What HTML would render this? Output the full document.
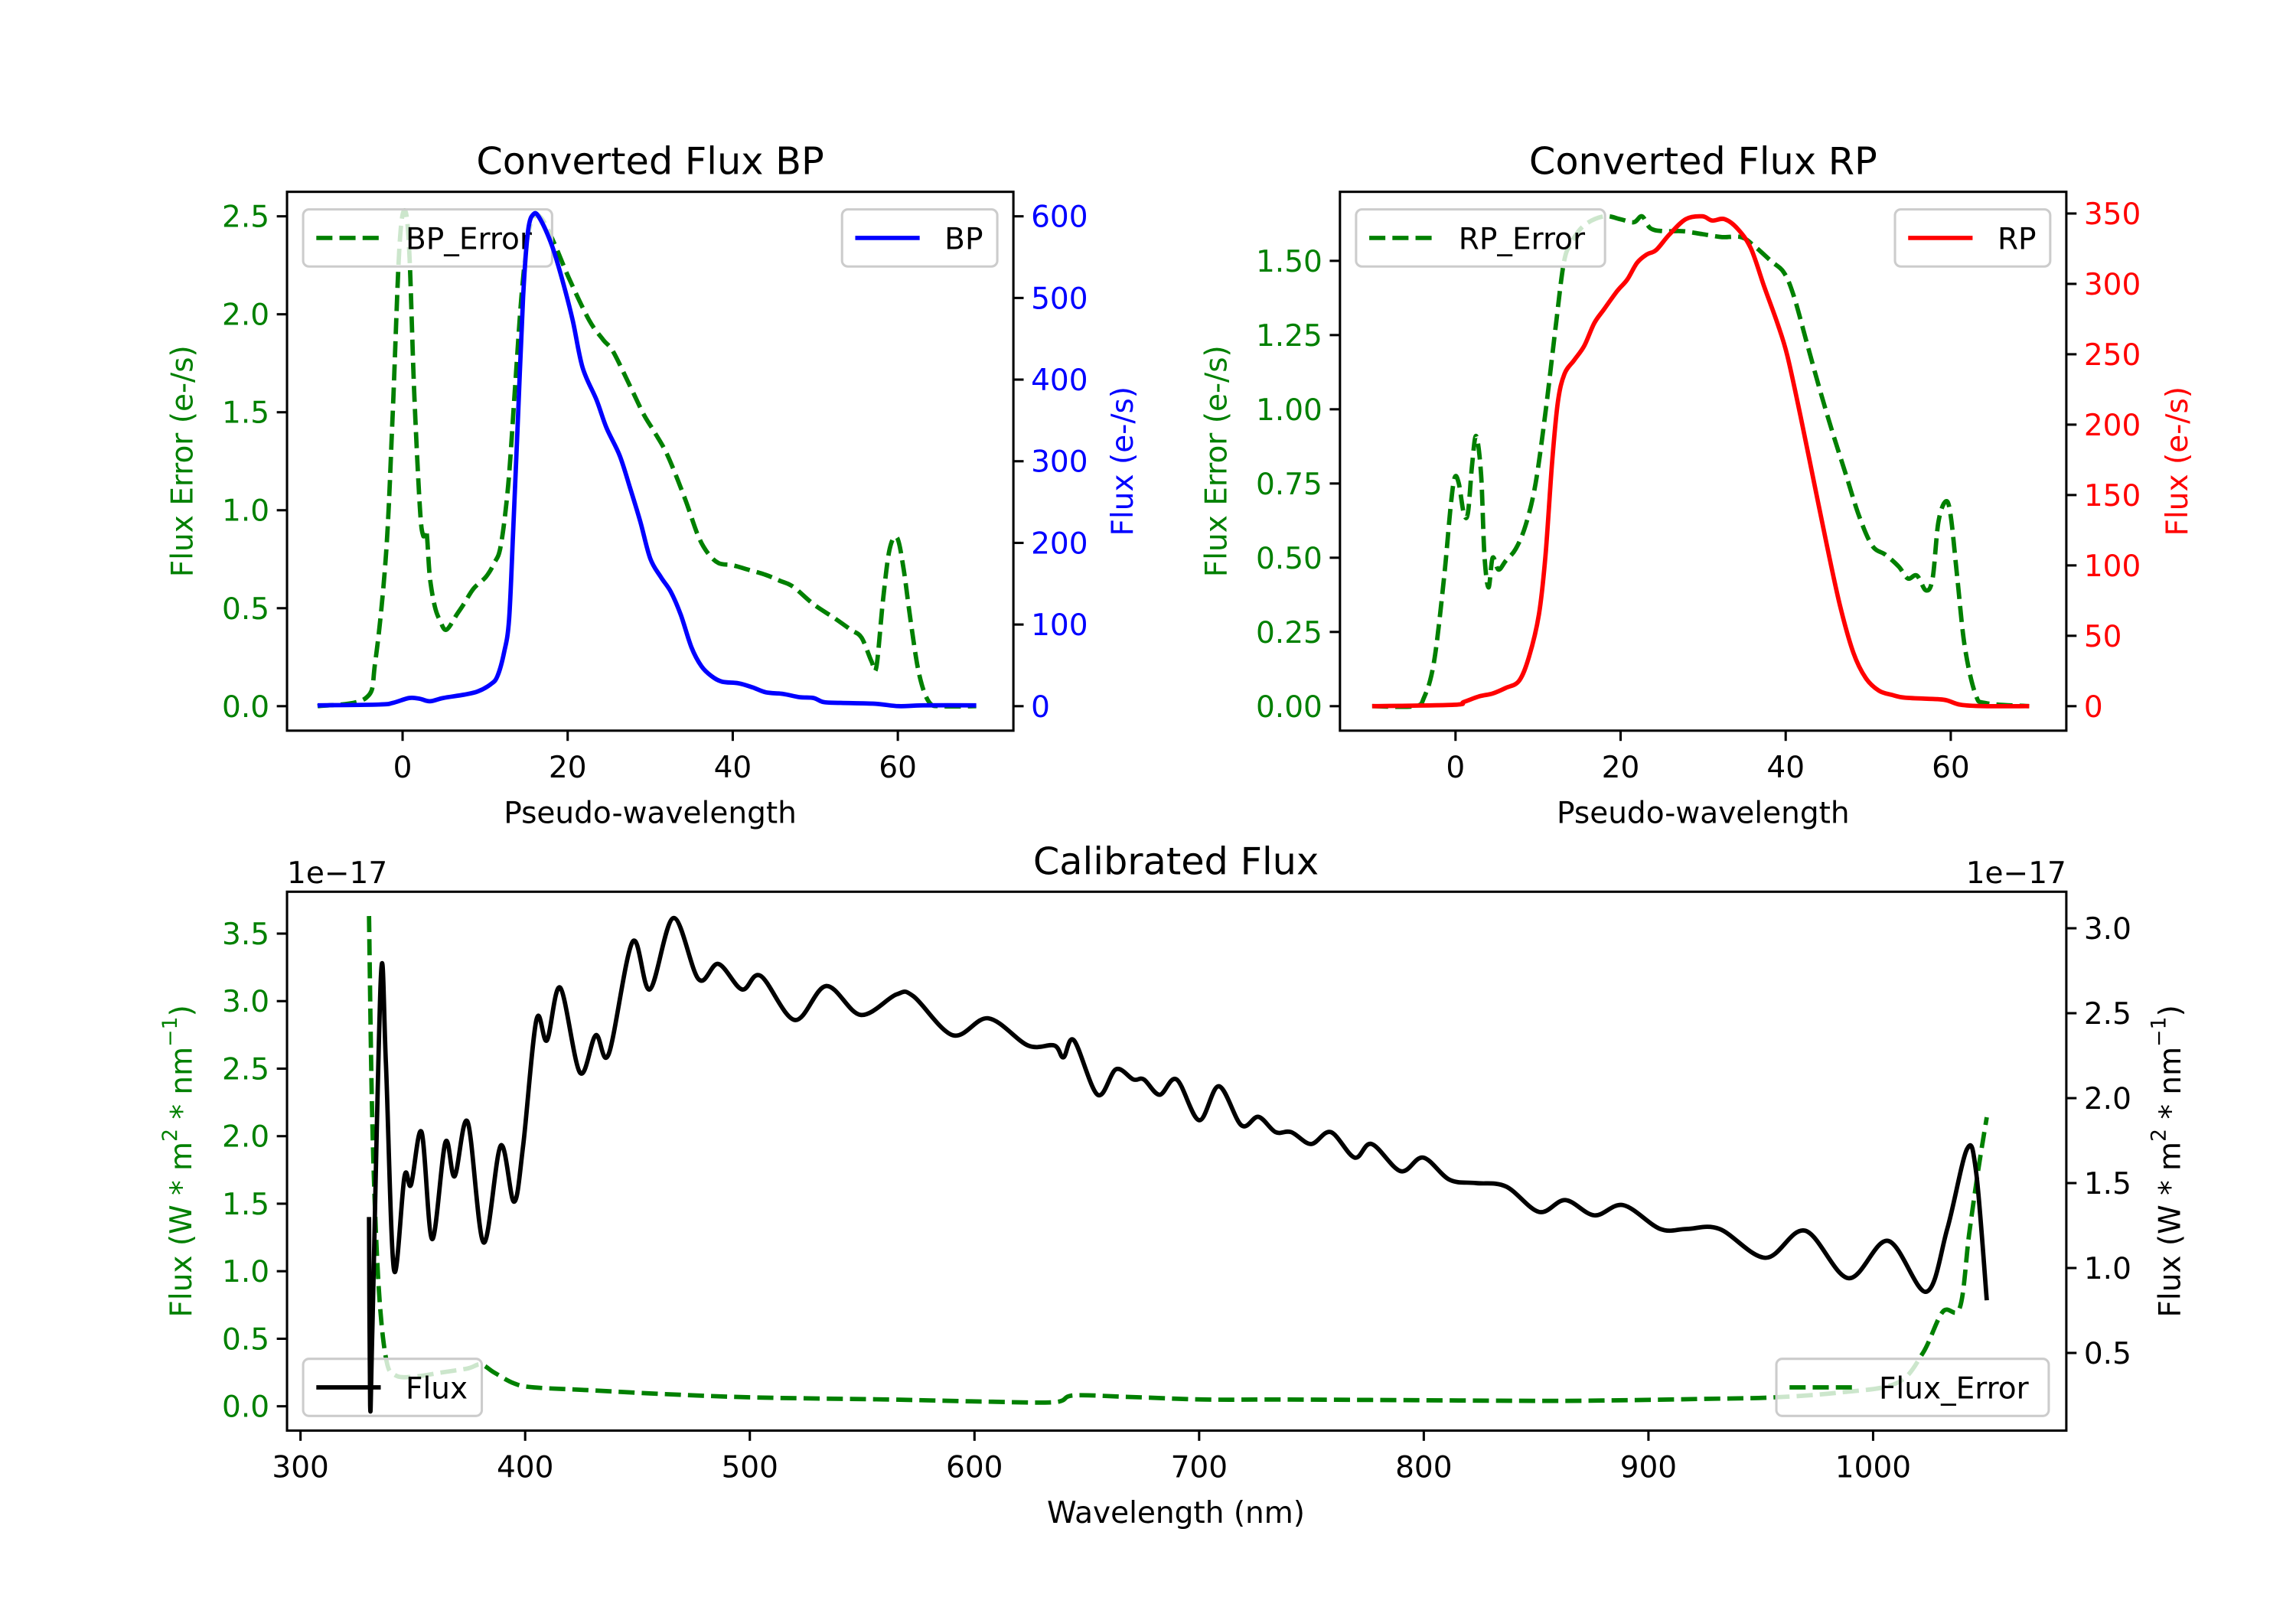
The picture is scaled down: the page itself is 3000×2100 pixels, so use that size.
<!DOCTYPE html>
<html><head><meta charset="utf-8"><style>
html,body{margin:0;padding:0;background:#fff;}
svg{display:block;}
text{font-family:"DejaVu Sans","Liberation Sans",sans-serif;}
</style></head><body>
<svg id="fig" xmlns="http://www.w3.org/2000/svg" width="3000" height="2100" viewBox="0 0 1560 1092">
<rect width="1560" height="1092" fill="#fff"/>
<g id="root" transform="scale(0.995)"></g>
</svg>
<script>
// ---------- data ----------
const bpErrX=[-10.3,-4.5,-3.3,-2,-1.2,-0.4,0.25,0.8,1.4,2.1,2.5,2.9,3.3,3.9,4.5,5.3,6.6,7.4,8.6,10.1,11.1,11.9,12.8,13.6,14.4,15.2,16.0,17.0,18.5,20.2,22.6,24.3,25.5,27.6,29.2,30.5,32.1,34.2,35.8,37.0,38.3,39.9,41.6,44.0,45.7,47.3,49.8,52.3,54.3,55.6,56.8,57.4,58.2,59.0,59.9,60.7,61.6,62.6,63.8,65.4,69.5];
const bpErrY=[0,0.04,0.23,0.78,1.49,2.33,2.53,2.33,1.61,1.01,0.87,0.89,0.66,0.51,0.44,0.39,0.47,0.52,0.60,0.66,0.73,0.82,1.13,1.61,2.09,2.40,2.50,2.48,2.35,2.18,1.97,1.87,1.81,1.63,1.49,1.40,1.28,1.06,0.87,0.78,0.73,0.72,0.70,0.67,0.64,0.61,0.52,0.45,0.39,0.35,0.23,0.20,0.54,0.80,0.86,0.70,0.42,0.16,0.02,0,0];
const bpX=[-10.3,-2.9,-1.2,0.8,2.1,3.3,4.9,7.4,9.1,10.7,11.5,12.3,12.9,13.4,14.0,14.6,15.2,15.9,16.7,18.1,19.3,20.6,21.8,23.5,24.7,26.3,27.6,28.8,30.0,31.3,32.5,33.7,35.0,36.2,37.4,38.7,40.7,42.4,44.0,46.1,48.1,49.8,51.0,53.1,57.2,60.1,63.0,69.5];
const bpY=[1,2,4,10,9,6,10,14,18,27,37,66,106,215,358,501,582,603,596,564,524,473,415,375,341,307,266,226,181,158,140,112,72,49,37,30,28,23,17,15,11,10,5,4,3,0,1,1];
const rpErrX=[-10.1,-5,-3.8,-2.6,-1.4,-0.6,-0.1,0.4,1.0,1.5,2.0,2.5,3.1,3.5,4.0,4.5,5.2,6.1,7.3,8.5,9.7,10.9,12.1,13.1,14.0,15.6,18.0,20.0,21.6,22.6,23.6,25.2,27.5,29.9,32.3,34.6,36.2,38.2,39.8,41.0,42.6,44.2,45.7,47.3,48.9,50.5,52.1,53.7,54.8,55.9,57.0,57.8,58.5,59.4,60.0,60.8,61.7,63.0,64.3,69.5];
const rpErrY=[0,0,0.03,0.15,0.43,0.67,0.77,0.75,0.65,0.65,0.81,0.91,0.78,0.51,0.40,0.50,0.46,0.49,0.53,0.61,0.75,0.99,1.27,1.49,1.56,1.62,1.65,1.64,1.63,1.65,1.61,1.60,1.60,1.59,1.58,1.58,1.55,1.50,1.46,1.38,1.22,1.06,0.92,0.78,0.64,0.54,0.51,0.47,0.43,0.44,0.39,0.43,0.62,0.69,0.64,0.43,0.20,0.04,0.01,0];
const rpX=[-10.1,-0.2,1.0,2.9,4.5,6.1,7.7,8.9,10.1,10.9,11.7,12.4,13.2,14.4,15.6,16.8,18.0,19.6,20.8,22.0,23.2,24.3,25.9,27.9,29.9,31.1,32.6,34.2,35.8,37.4,39.0,40.2,41.8,43.4,45.0,46.6,48.2,49.7,51.3,52.9,54.5,58.4,59.6,61.2,63.9,69.5];
const rpY=[0,1,3,7,9,13,18,35,65,107,173,216,236,246,256,272,282,295,303,315,321,324,335,346,348,345,346,339,325,298,272,249,206,160,114,71,38,20,11,8,6,5,4,1,0,0];
const calX=[330.5,331,332,335.8,338,341.6,346.3,349.2,353.9,358.6,364.5,368.6,374.4,381.5,389.1,395,399.1,405,409.7,415.6,424.4,431.4,437.2,447.8,455.5,466,477.2,486,496.5,504.8,520,534,549.3,565.2,572.8,590.4,606.2,623.8,635.5,639.6,644.3,654.8,663,670.7,675.4,682.4,690,700,708.8,718.8,726.4,734,741,749.8,758.6,769.2,776.8,789.7,799.7,811.4,823.2,836.6,851.3,863,875.9,888.8,905.2,917,931.6,952.1,969.7,989,1006.6,1023.6,1033,1041.8,1045.9,1050.6];
const calY=[1.30,0.19,0.65,2.72,2.21,0.99,1.54,1.49,1.80,1.17,1.74,1.54,1.86,1.15,1.72,1.39,1.72,2.46,2.34,2.65,2.15,2.37,2.26,2.92,2.64,3.06,2.70,2.79,2.64,2.72,2.46,2.66,2.49,2.61,2.60,2.37,2.47,2.31,2.31,2.24,2.34,2.02,2.17,2.11,2.11,2.02,2.11,1.87,2.07,1.84,1.89,1.80,1.80,1.73,1.80,1.65,1.73,1.57,1.65,1.52,1.50,1.48,1.33,1.40,1.31,1.37,1.23,1.23,1.23,1.06,1.22,0.94,1.16,0.86,1.23,1.70,1.56,0.81];
const calErrX=[330.5,332,334.6,338,342.2,351,362.7,374.4,380.3,386.2,395,403.8,427.2,462.4,503.4,562,603,635.3,644,667.4,702.6,737.8,796.5,855,890.2,925.3,954.6,984,1010.3,1022,1031,1038.6,1042.7,1046.8,1050.6];
const calErrY=[3.63,2.08,0.94,0.36,0.23,0.22,0.25,0.28,0.31,0.25,0.17,0.14,0.12,0.09,0.065,0.05,0.035,0.03,0.08,0.07,0.05,0.05,0.045,0.04,0.045,0.055,0.065,0.10,0.17,0.39,0.70,0.73,1.27,1.75,2.14];
const pwTicks=[0,20,40,60];
const bpErrTicks=["0.0","0.5","1.0","1.5","2.0","2.5"];
const bpTicks=["0","100","200","300","400","500","600"];
const rpErrTicks=["0.00","0.25","0.50","0.75","1.00","1.25","1.50"];
const rpTicks=["0","50","100","150","200","250","300","350"];
const wlTicks=["300","400","500","600","700","800","900","1000"];
const calErrTicks=["0.0","0.5","1.0","1.5","2.0","2.5","3.0","3.5"];
const calTicks=["0.5","1.0","1.5","2.0","2.5","3.0"];

// ---------- helpers ----------
const NS="http://www.w3.org/2000/svg";
const svg=document.getElementById('root');
function E(tag,attrs,parent,txt){const e=document.createElementNS(NS,tag);for(const k in attrs)e.setAttribute(k,attrs[k]);if(txt!==undefined)e.textContent=txt;(parent||svg).appendChild(e);return e;}
function scale(d0,d1,p0,p1){return v=>p0+(v-d0)/(d1-d0)*(p1-p0);}
const TF=20.4, LW=3.0, DASH="11,4.8", TTL=25.8;

function smoothPath(P){
  let d="M"+P[0][0].toFixed(2)+","+P[0][1].toFixed(2);
  for(let i=0;i<P.length-1;i++){
    const p0=P[Math.max(0,i-1)],p1=P[i],p2=P[i+1],p3=P[Math.min(P.length-1,i+2)];
    const k=1/6;
    const c1=[p1[0]+(p2[0]-p0[0])*k,p1[1]+(p2[1]-p0[1])*k];
    const c2=[p2[0]-(p3[0]-p1[0])*k,p2[1]-(p3[1]-p1[1])*k];
    d+=" C"+c1[0].toFixed(2)+","+c1[1].toFixed(2)+" "+c2[0].toFixed(2)+","+c2[1].toFixed(2)+" "+p2[0].toFixed(2)+","+p2[1].toFixed(2);
  }
  return d;
}
function line(xs,ys,sx,sy,color,dashed,name,parent){
  const P=xs.map((x,i)=>[sx(x),sy(ys[i])]);
  const p=E('path',{d:smoothPath(P),fill:'none',stroke:color,'stroke-width':LW,'stroke-linejoin':'round'},parent);
  if(dashed)p.setAttribute('stroke-dasharray',DASH);
  
  
}
function yTicks(vals,sy,x,side,color,name,parent){
  const g=E('g',{},parent);
  
  
  vals.forEach(v=>{const y=sy(parseFloat(v));
    E('line',{x1:x,x2:x+(side<0?-7:7),y1:y,y2:y,stroke:'#000','stroke-width':1.6},g);
    const t=E('text',{x:x+(side<0?-12:12),y:y+7.3,'font-size':TF,fill:color,'text-anchor':side<0?'end':'start'},g,v);
    
    
  });
}
function xTicks(vals,sx,y,name,parent){
  const g=E('g',{},parent);
  
  
  vals.forEach(v=>{const x=sx(parseFloat(v));
    E('line',{x1:x,x2:x,y1:y,y2:y+7,stroke:'#000','stroke-width':1.6},g);
    const t=E('text',{x:x,y:y+32,'font-size':TF,fill:'#000','text-anchor':'middle'},g,String(v));
    
    
  });
}
function legend(x,y,w,color,dashed,label,name,parent){
  const g=E('g',{},parent);
  
  
  E('rect',{x:x,y:y,width:w,height:39,rx:4,fill:'#fff','fill-opacity':0.8,stroke:'#ccc','stroke-width':1.6},g);
  const l=E('line',{x1:x+9,x2:x+53,y1:y+19.5,y2:y+19.5,stroke:color,'stroke-width':LW},g);
  if(dashed)l.setAttribute('stroke-dasharray',DASH);
  E('text',{x:x+70,y:y+27,'font-size':TF,fill:'#000'},g,label);
}
function vlabel(x,y,color,parent,content,name){
  const t=E('text',{x:x,y:y,'font-size':TF,fill:color,'text-anchor':'middle','dominant-baseline':'central',transform:`rotate(-90 ${x} ${y})`},parent);
  t.innerHTML=content;
  
  
}
function text(x,y,s,size,anchor,name,parent){
  const t=E('text',{x:x,y:y,'font-size':size,fill:'#000','text-anchor':anchor},parent,s);
  
  
}
function frame(L,T,R,B,parent){
  E('rect',{x:L,y:T,width:R-L,height:B-T,fill:'none',stroke:'#000','stroke-width':1.6},parent);
}

// ---------- BP panel ----------
(function(){
  const L=196,R=692,T=131,B=499;
  const g=E('g',{});  
  const sx=scale(-14,74,L,R), sy=scale(-0.125,2.625,B,T), sy2=scale(-30,630,B,T);
  line(bpErrX,bpErrY,sx,sy,'#008000',true,'bp-error-line',g);
  legend(207,143,170,'#008000',true,'BP_Error','bp-error-legend',g);
  line(bpX,bpY,sx,sy2,'#0000ff',false,'bp-flux-line',g);
  legend(575,143,106,'#0000ff',false,'BP','bp-legend',g);
  frame(L,T,R,B,g);
  yTicks(bpErrTicks,sy,L,-1,'#008000','bp-left-y-axis',g);
  yTicks(bpTicks,sy2,R,1,'#0000ff','bp-right-y-axis',g);
  xTicks(pwTicks,sx,B,'bp-x-axis',g);
  text(444,119,'Converted Flux BP',TTL,'middle','bp-title',g);
  text(444,562,'Pseudo-wavelength',TF,'middle','bp-x-axis-title',g);
  vlabel(125,315,'#008000',g,'Flux Error (e-/s)','bp-left-y-title');
  vlabel(767,315,'#0000ff',g,'Flux (e-/s)','bp-right-y-title');
})();

// ---------- RP panel ----------
(function(){
  const L=915,R=1411,T=131,B=499;
  const g=E('g',{});  
  const sx=scale(-14,74,L,R), sy=scale(-0.0825,1.7325,B,T), sy2=scale(-17.4,365.4,B,T);
  line(rpErrX,rpErrY,sx,sy,'#008000',true,'rp-error-line',g);
  legend(926,143,170,'#008000',true,'RP_Error','rp-error-legend',g);
  line(rpX,rpY,sx,sy2,'#ff0000',false,'rp-flux-line',g);
  legend(1294,143,106,'#ff0000',false,'RP','rp-legend',g);
  frame(L,T,R,B,g);
  yTicks(rpErrTicks,sy,L,-1,'#008000','rp-left-y-axis',g);
  yTicks(rpTicks,sy2,R,1,'#ff0000','rp-right-y-axis',g);
  xTicks(pwTicks,sx,B,'rp-x-axis',g);
  text(1163,119,'Converted Flux RP',TTL,'middle','rp-title',g);
  text(1163,562,'Pseudo-wavelength',TF,'middle','rp-x-axis-title',g);
  vlabel(831,315,'#008000',g,'Flux Error (e-/s)','rp-left-y-title');
  vlabel(1487,315,'#ff0000',g,'Flux (e-/s)','rp-right-y-title');
})();

// ---------- Calibrated panel ----------
(function(){
  const L=196,R=1411,T=609,B=977;
  const g=E('g',{});  
  const sx=scale(294,1086,L,R), sy=scale(-0.18,3.81,B,T), sy2=scale(0.043,3.215,B,T);
  line(calErrX,calErrY,sx,sy,'#008000',true,'flux-error-line',g);
  legend(207,928,122,'#000000',false,'Flux','flux-legend',g);
  line(calX,calY,sx,sy2,'#000000',false,'flux-line',g);
  legend(1213,928,186,'#008000',true,'Flux_Error','flux-error-legend',g);
  frame(L,T,R,B,g);
  yTicks(calErrTicks,sy,L,-1,'#008000','cal-left-y-axis',g);
  yTicks(calTicks,sy2,R,1,'#000000','cal-right-y-axis',g);
  xTicks(wlTicks,sx,B,'cal-x-axis',g);
  text(803,597,'Calibrated Flux',TTL,'middle','cal-title',g);
  text(803,1040,'Wavelength (nm)',TF,'middle','cal-x-axis-title',g);
  text(196,603,'1e\u221217',TF,'start','cal-left-offset-label',g);
  text(1411,603,'1e\u221217',TF,'end','cal-right-offset-label',g);
  const lab='Flux (W * m<tspan dy="-8" font-size="14">2</tspan><tspan dy="8"> * nm</tspan><tspan dy="-8" font-size="14">\u22121</tspan><tspan dy="8">)</tspan>';
  vlabel(124,793,'#008000',g,lab,'cal-left-y-title');
  vlabel(1482,793,'#000000',g,lab,'cal-right-y-title');
})();
</script>
</body></html>
